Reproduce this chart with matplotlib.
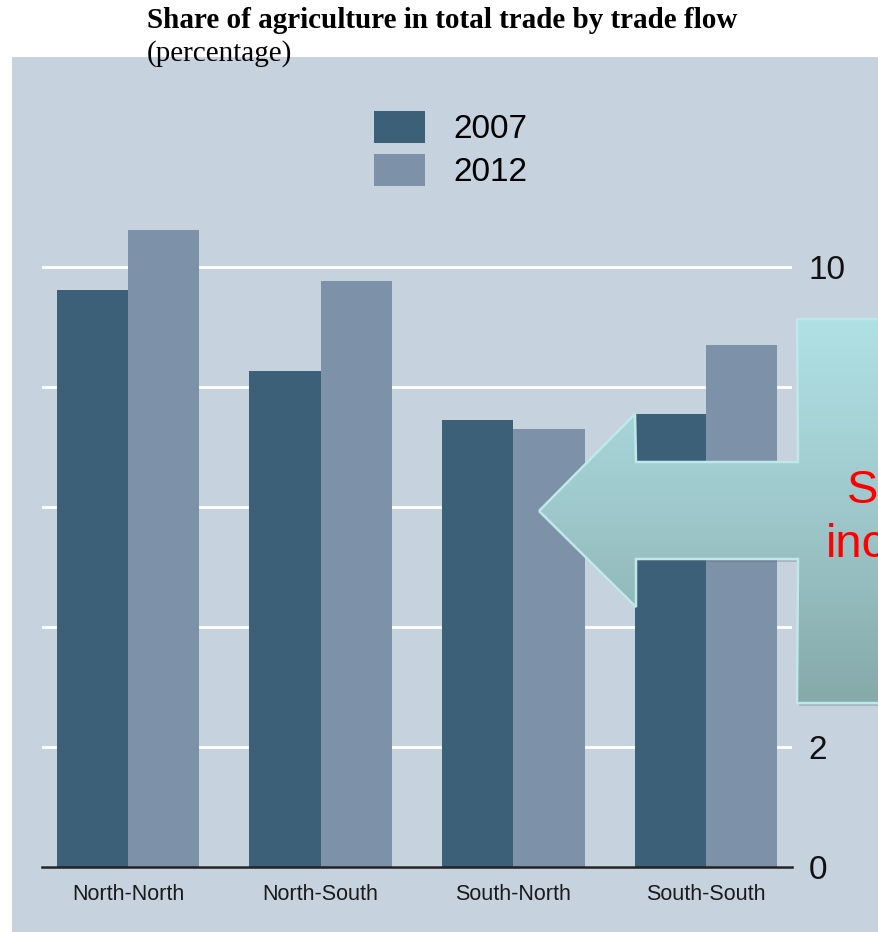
import numpy as np
import matplotlib
matplotlib.use("Agg")
import matplotlib.pyplot as plt
from matplotlib.patches import Polygon, Rectangle
from matplotlib.colors import LinearSegmentedColormap

categories = ["North-North", "North-South", "South-North", "South-South"]
series_names = ["2007", "2012"]
values_2007 = [9.62, 8.27, 7.45, 7.55]
values_2012 = [10.62, 9.77, 7.30, 8.70]
yticks = [0, 2, 4, 6, 8, 10]

W, H = 879, 932
fig = plt.figure(figsize=(W / 100, H / 100), dpi=100)
fig.patch.set_facecolor("white")

panel_col = "#c6d2de"
dark = "#3d6079"
light = "#7d91a8"

# panel background
bg = Rectangle((12 / W, 0), 1 - 12 / W, 1 - 57 / H, transform=fig.transFigure,
               facecolor=panel_col, edgecolor="none", zorder=-10)
fig.add_artist(bg)

ax = fig.add_axes([42 / W, 1 - 867 / H, (792 - 42) / W, (867 - 57) / H], zorder=1)
ax.set_facecolor("none")
x = np.arange(len(categories))
bw = 0.37
ax.bar(x - bw / 2, values_2007, bw, color=dark, zorder=3, label=series_names[0])
ax.bar(x + bw / 2, values_2012, bw, color=light, zorder=3, label=series_names[1])
ax.set_xlim(-0.446, 3.446)
ax.set_ylim(0, 13.5)
for s in ["top", "left", "right"]:
    ax.spines[s].set_visible(False)
ax.spines["bottom"].set_color("#222222")
ax.spines["bottom"].set_linewidth(1.8)
ax.spines["bottom"].set_zorder(4)
ax.set_yticks(yticks)
ax.set_yticklabels([str(t) for t in yticks])
ax.yaxis.tick_right()
ax.tick_params(axis="y", length=0, pad=12, labelsize=24, labelcolor="#111111")
for lab in ax.get_yticklabels():
    lab.set_fontfamily("Liberation Sans")
ax.yaxis.grid(True, color="white", linewidth=2, zorder=1)
ax.set_axisbelow(True)
ax.set_xticks(x)
ax.set_xticklabels(categories, fontsize=15.5, fontfamily="Liberation Sans", color="#1a1a1a")
ax.tick_params(axis="x", length=0, pad=12)

leg = ax.legend(loc="upper left", bbox_to_anchor=(374 / W, 1 - 111 / H), bbox_transform=fig.transFigure,
                frameon=False, handlelength=1.53, handleheight=1.1,
                handletextpad=0.84, labelspacing=0.25, borderpad=0, borderaxespad=0,
                prop={"family": "Liberation Sans", "size": 24})

# titles
fig.text(147 / W, 1 - 7 / H, "Share of agriculture in total trade by trade flow", ha="left", va="top",
         fontsize=21, fontweight="bold", fontfamily="Liberation Serif", color="black", zorder=5)
fig.text(147 / W, 1 - 40 / H, "(percentage)", ha="left", va="top",
         fontsize=21, fontfamily="Liberation Serif", color="black", zorder=5)

# overlay arrow callout
ov = fig.add_axes([0, 0, 1, 1], zorder=2)
ov.axis("off")
ov.patch.set_alpha(0)
pts = [(539, 511), (635, 414), (636, 462), (798, 462), (797, 319), (905, 319),
       (905, 703), (797, 703), (798, 559), (636, 559), (636, 607)]
shadow = Polygon([(px + 2, py + 3) for px, py in pts], closed=True, facecolor="#50606a",
                 alpha=0.25, edgecolor="none", zorder=5)
ov.add_patch(shadow)
cmap = LinearSegmentedColormap.from_list("g", ["#b0e1e5", "#9ec8cb", "#86a9a9"])
grad = np.linspace(0, 1, 256).reshape(-1, 1)
im = ov.imshow(grad, cmap=cmap, extent=(530, 905, 703, 319), aspect="auto", zorder=6)
ov.set_xlim(0, W)
ov.set_ylim(H, 0)
poly = Polygon(pts, closed=True, facecolor="none", edgecolor="#bfe8eb", linewidth=1.8, zorder=7)
ov.add_patch(poly)
im.set_clip_path(poly)
ov.text(847, 503, "S", color="#ff0000", fontsize=34, fontfamily="Liberation Sans",
        ha="left", va="baseline", zorder=8, clip_on=True)
ov.text(826, 557, "inc", color="#ff0000", fontsize=34, fontfamily="Liberation Sans",
        ha="left", va="baseline", zorder=8, clip_on=True)

fig.savefig("out.png", dpi=100)
